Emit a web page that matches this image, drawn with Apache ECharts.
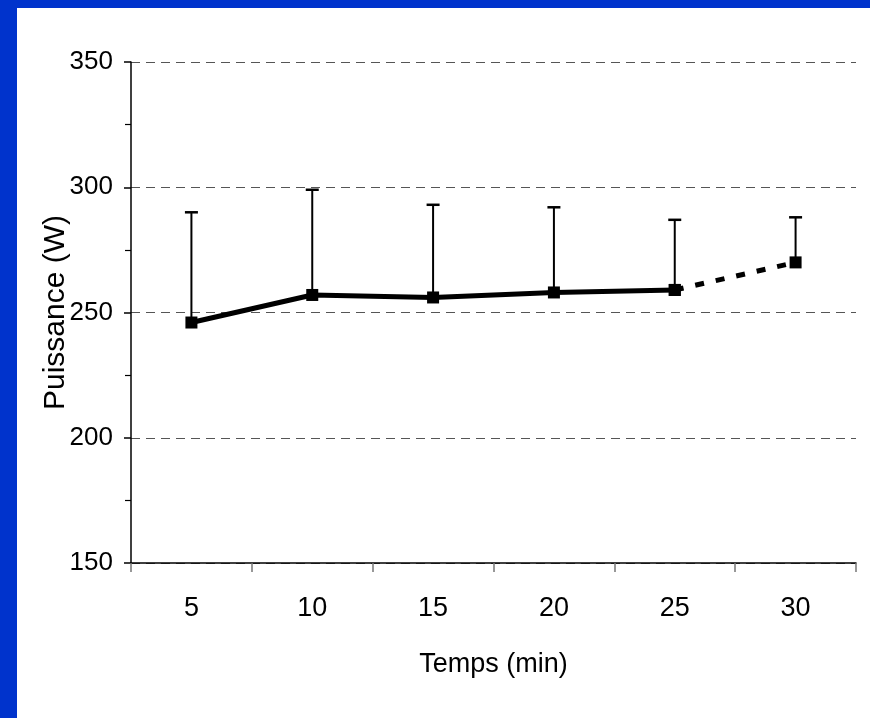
<!DOCTYPE html>
<html>
<head>
<meta charset="utf-8">
<script src="https://cdn.jsdelivr.net/npm/echarts@6/dist/echarts.min.js"></script>
<style>
  html, body { margin: 0; padding: 0; width: 870px; height: 718px; background: #0033cc; overflow: hidden; }
  #main { position: absolute; left: 17px; top: 8px; width: 853px; height: 710px; background: #ffffff; }
</style>
</head>
<body>
<div id="main"></div>
<script>
const categories = ['5', '10', '15', '20', '25', '30'];
const meanPower = [246, 257, 256, 258, 259, 270];
const upperError = [290, 299, 293, 292, 287, 288];
const yTicks = { min: 150, max: 350, interval: 50 };
const xTitle = 'Temps (min)';
const yTitle = 'Puissance (W)';

const solidData = meanPower.map((v, i) => (i <= 4 ? v : null));
const dashedData = meanPower.map((v, i) => (i >= 4 ? v : null));
const errData = categories.map((c, i) => [i, meanPower[i], upperError[i]]);

const FONT = '"Liberation Sans", Arial, sans-serif';

const chart = echarts.init(document.getElementById('main'), null, { renderer: 'canvas' });
chart.setOption({
  animation: false,
  backgroundColor: '#ffffff',
  grid: { left: 114, right: 14, top: 54, bottom: 155, containLabel: false },
  xAxis: {
    type: 'category',
    data: categories,
    boundaryGap: true,
    name: xTitle,
    nameLocation: 'middle',
    nameGap: 88,
    nameTextStyle: { fontFamily: FONT, fontSize: 27, color: '#000' },
    axisLine: { lineStyle: { color: '#000', width: 1.5 } },
    axisTick: { show: true, length: 9, lineStyle: { color: '#777', width: 1.5 } },
    axisLabel: { fontFamily: FONT, fontSize: 27, color: '#000', margin: 32 },
    splitLine: { show: false }
  },
  yAxis: {
    type: 'value',
    min: yTicks.min,
    max: yTicks.max,
    interval: yTicks.interval,
    name: yTitle,
    nameLocation: 'middle',
    nameGap: 60,
    nameRotate: 90,
    nameMoveOverlap: false,
    nameTextStyle: { fontFamily: FONT, fontSize: 30, color: '#000' },
    axisLine: { show: true, lineStyle: { color: '#000', width: 1.5 } },
    axisTick: { show: true, length: 7, lineStyle: { color: '#000', width: 1.5 } },
    minorTick: { show: true, splitNumber: 2, length: 6, lineStyle: { color: '#000', width: 1.2 } },
    axisLabel: { fontFamily: FONT, fontSize: 26, color: '#000', margin: 18 },
    splitLine: { show: true, lineStyle: { color: '#555', type: [9, 6], width: 1.2 } }
  },
  series: [
    {
      type: 'custom',
      z: 1,
      data: errData,
      renderItem: function (params, api) {
        const x = api.value(0);
        const p0 = api.coord([x, api.value(1)]);
        const p1 = api.coord([x, api.value(2)]);
        const half = 6.5;
        return {
          type: 'group',
          children: [
            { type: 'line', shape: { x1: p0[0], y1: p0[1], x2: p1[0], y2: p1[1] }, style: { stroke: '#000', lineWidth: 2 } },
            { type: 'line', shape: { x1: p1[0] - half, y1: p1[1], x2: p1[0] + half, y2: p1[1] }, style: { stroke: '#000', lineWidth: 2.5 } }
          ]
        };
      }
    },
    {
      type: 'line',
      z: 3,
      data: solidData,
      symbol: 'rect',
      symbolSize: 12,
      showAllSymbol: true,
      itemStyle: { color: '#000' },
      lineStyle: { color: '#000', width: 5 },
      connectNulls: false
    },
    {
      type: 'line',
      z: 2,
      data: dashedData,
      symbol: 'rect',
      symbolSize: 12,
      itemStyle: { color: '#000' },
      lineStyle: { color: '#000', width: 5, type: [9, 12] },
      connectNulls: false
    }
  ]
});
</script>
</body>
</html>
